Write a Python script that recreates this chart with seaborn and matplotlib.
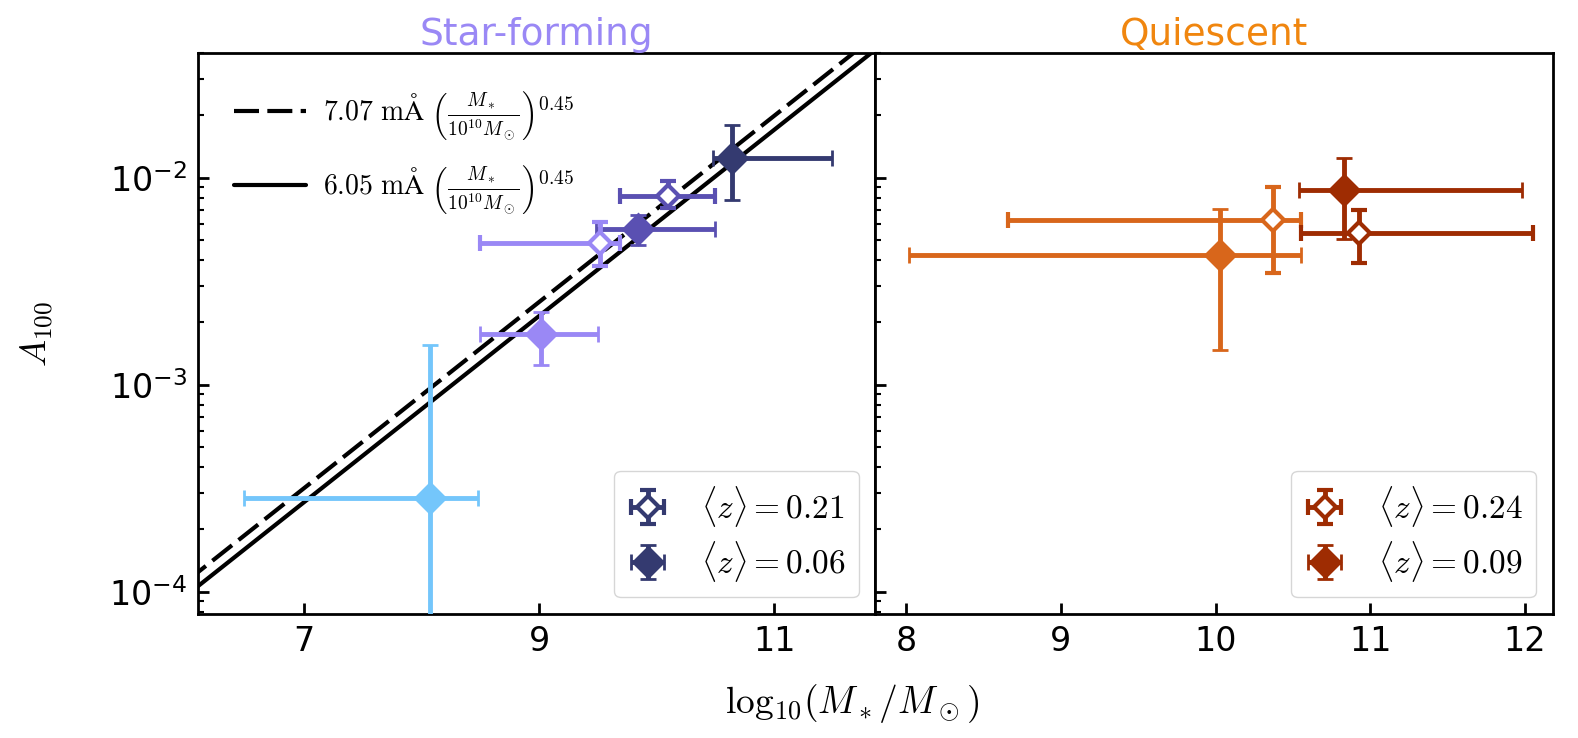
import numpy as np
import matplotlib
matplotlib.use("Agg")
import matplotlib.pyplot as plt
import seaborn as sns

# ---------------------------------------------------------------------------
# Datos (centro, límites inferior / superior)
# ---------------------------------------------------------------------------

# Star-forming, símbolos llenos (<z> = 0.06)
sf_lleno_x = [8.07, 9.02, 9.84, 10.64]
sf_lleno_xlo = [6.49, 8.50, 9.48, 10.48]
sf_lleno_xhi = [8.48, 9.50, 10.50, 11.49]
sf_lleno_y = [2.83e-4, 1.76e-3, 5.65e-3, 1.25e-2]
sf_lleno_ylo = [0.0, 1.25e-3, 4.74e-3, 7.8e-3]
sf_lleno_yhi = [1.55e-3, 2.25e-3, 6.62e-3, 1.80e-2]
sf_lleno_col = ['#74c6fb', '#9a88f5', '#5a50b2', '#343a70']

# Star-forming, símbolos abiertos (<z> = 0.21)
sf_abierto_x = [9.52, 10.10]
sf_abierto_xlo = [8.50, 9.69]
sf_abierto_xhi = [9.69, 10.50]
sf_abierto_y = [4.83e-3, 8.12e-3]
sf_abierto_ylo = [3.73e-3, 7.13e-3]
sf_abierto_yhi = [6.08e-3, 9.60e-3]
sf_abierto_col = ['#9a88f5', '#5a50b2']

# Quiescent, símbolos llenos (<z> = 0.09)
q_lleno_x = [10.03, 10.83]
q_lleno_xlo = [8.02, 10.54]
q_lleno_xhi = [10.55, 11.98]
q_lleno_y = [4.24e-3, 8.75e-3]
q_lleno_ylo = [1.47e-3, 5.05e-3]
q_lleno_yhi = [7.05e-3, 1.245e-2]
q_lleno_col = ['#d8661b', '#9e2c02']

# Quiescent, símbolos abiertos (<z> = 0.24)
q_abierto_x = [10.37, 10.93]
q_abierto_xlo = [8.66, 10.55]
q_abierto_xhi = [10.55, 12.05]
q_abierto_y = [6.27e-3, 5.40e-3]
q_abierto_ylo = [3.46e-3, 3.86e-3]
q_abierto_yhi = [8.98e-3, 7.00e-3]
q_abierto_col = ['#d8661b', '#9e2c02']

# Ajustes de ley de potencias (amplitud en Å, pendiente)
ajuste_amp = [7.07e-3, 6.05e-3]
ajuste_pend = 0.45
ajuste_x = [6.0, 12.0]

COLOR_SF = '#9a88f5'
COLOR_Q = '#f0860f'
COLOR_SF_LEYENDA = '#343a70'
COLOR_Q_LEYENDA = '#9e2c02'

ESTILO_BARRAS = dict(fmt='D', elinewidth=3.5, capsize=6, capthick=3.5, zorder=3)


def dibujar_puntos(ax, x, xlo, xhi, y, ylo, yhi, colores, abierto):
    for i in range(len(x)):
        xerr = [[x[i] - xlo[i]], [xhi[i] - x[i]]]
        yerr = [[y[i] - ylo[i]], [yhi[i] - y[i]]]
        c = colores[i]
        if abierto:
            ax.errorbar([x[i]], [y[i]], xerr=xerr, yerr=yerr, color=c,
                        mfc='white', mec=c, ms=11, mew=3, **ESTILO_BARRAS)
        else:
            ax.errorbar([x[i]], [y[i]], xerr=xerr, yerr=yerr, color=c,
                        mfc=c, mec=c, ms=15, mew=2, **ESTILO_BARRAS)


def proxy_leyenda(ax, color, abierto, etiqueta):
    kw = dict(mfc='white', ms=11, mew=3) if abierto else dict(mfc=color, ms=15, mew=2)
    return ax.errorbar([np.nan], [np.nan], xerr=[[0.1], [0.1]], yerr=[[0.1], [0.1]],
                       color=color, mec=color, label=etiqueta, **kw, **ESTILO_BARRAS)


sns.set_style('ticks')
plt.rcParams['font.family'] = ['DejaVu Sans']
plt.rcParams['mathtext.fontset'] = 'cm'
plt.rcParams['axes.unicode_minus'] = False
plt.rcParams['text.color'] = 'black'
plt.rcParams['xtick.color'] = 'black'
plt.rcParams['ytick.color'] = 'black'
plt.rcParams['axes.labelcolor'] = 'black'

fig, axes = plt.subplots(1, 2, figsize=(15.78, 7.38), dpi=100, sharey=True)
fig.subplots_adjust(left=0.1255, right=0.984, top=0.928, bottom=0.168, wspace=0)
ax_sf, ax_q = axes

# --- panel star-forming ---
etiquetas_ajuste = [
    r'$7.07\ \mathrm{m\AA}\ \left(\frac{M_*}{10^{10}M_\odot}\right)^{0.45}$',
    r'$6.05\ \mathrm{m\AA}\ \left(\frac{M_*}{10^{10}M_\odot}\right)^{0.45}$',
]
estilos = [(0, (6, 2)), '-']
lineas = []
for amp, est, etq in zip(ajuste_amp, estilos, etiquetas_ajuste):
    yy = [amp * 10 ** (ajuste_pend * (xv - 10)) for xv in ajuste_x]
    sns.lineplot(x=ajuste_x, y=yy, ax=ax_sf, color='black', linestyle=est,
                 linewidth=3, zorder=1)
    lineas.append(ax_sf.lines[-1])
    lineas[-1].set_label(etq)

dibujar_puntos(ax_sf, sf_lleno_x, sf_lleno_xlo, sf_lleno_xhi,
               sf_lleno_y, sf_lleno_ylo, sf_lleno_yhi, sf_lleno_col, False)
dibujar_puntos(ax_sf, sf_abierto_x, sf_abierto_xlo, sf_abierto_xhi,
               sf_abierto_y, sf_abierto_ylo, sf_abierto_yhi, sf_abierto_col, True)

leg_ajuste = ax_sf.legend(handles=lineas, loc='upper left', frameon=False,
                          fontsize=20, handlelength=2.6, labelspacing=0.75,
                          borderaxespad=0.9, handletextpad=0.6)
ax_sf.add_artist(leg_ajuste)
h1 = proxy_leyenda(ax_sf, COLOR_SF_LEYENDA, True, r'$\langle z\rangle = 0.21$')
h2 = proxy_leyenda(ax_sf, COLOR_SF_LEYENDA, False, r'$\langle z\rangle = 0.06$')
ax_sf.legend(handles=[h1, h2], loc='lower right', fontsize=24, handlelength=1.2,
             handletextpad=1.0, labelspacing=0.3)

# --- panel quiescent ---
dibujar_puntos(ax_q, q_lleno_x, q_lleno_xlo, q_lleno_xhi,
               q_lleno_y, q_lleno_ylo, q_lleno_yhi, q_lleno_col, False)
dibujar_puntos(ax_q, q_abierto_x, q_abierto_xlo, q_abierto_xhi,
               q_abierto_y, q_abierto_ylo, q_abierto_yhi, q_abierto_col, True)
h3 = proxy_leyenda(ax_q, COLOR_Q_LEYENDA, True, r'$\langle z\rangle = 0.24$')
h4 = proxy_leyenda(ax_q, COLOR_Q_LEYENDA, False, r'$\langle z\rangle = 0.09$')
ax_q.legend(handles=[h3, h4], loc='lower right', fontsize=24, handlelength=1.2,
            handletextpad=1.0, labelspacing=0.3)

# --- ejes ---
ax_sf.set_yscale('log')
ax_sf.set_ylim(7.8e-5, 0.04)
ax_sf.set_xlim(6.1, 11.86)
ax_q.set_xlim(7.8, 12.18)
ax_sf.set_xticks([7, 9, 11])
ax_q.set_xticks([8, 9, 10, 11, 12])

for ax in axes:
    for sp in ax.spines.values():
        sp.set_linewidth(2)
        sp.set_color('black')
    ax.tick_params(which='major', direction='in', length=8, width=2,
                   labelsize=24, pad=8)
    ax.tick_params(which='minor', direction='in', length=4, width=1.5)
    ax.tick_params(axis='x', which='minor', bottom=False)

ax_sf.set_title('Star-forming', color=COLOR_SF, fontsize=27, pad=6)
ax_q.set_title('Quiescent', color=COLOR_Q, fontsize=27, pad=6)
ax_sf.set_ylabel(r'$A_{100}$', fontsize=26, labelpad=38)
fig.text(0.54, 0.047, r'$\mathrm{log}_{10}(M_*/M_\odot)$', fontsize=27,
         ha='center', va='center')

fig.savefig('out.png', dpi=100)
